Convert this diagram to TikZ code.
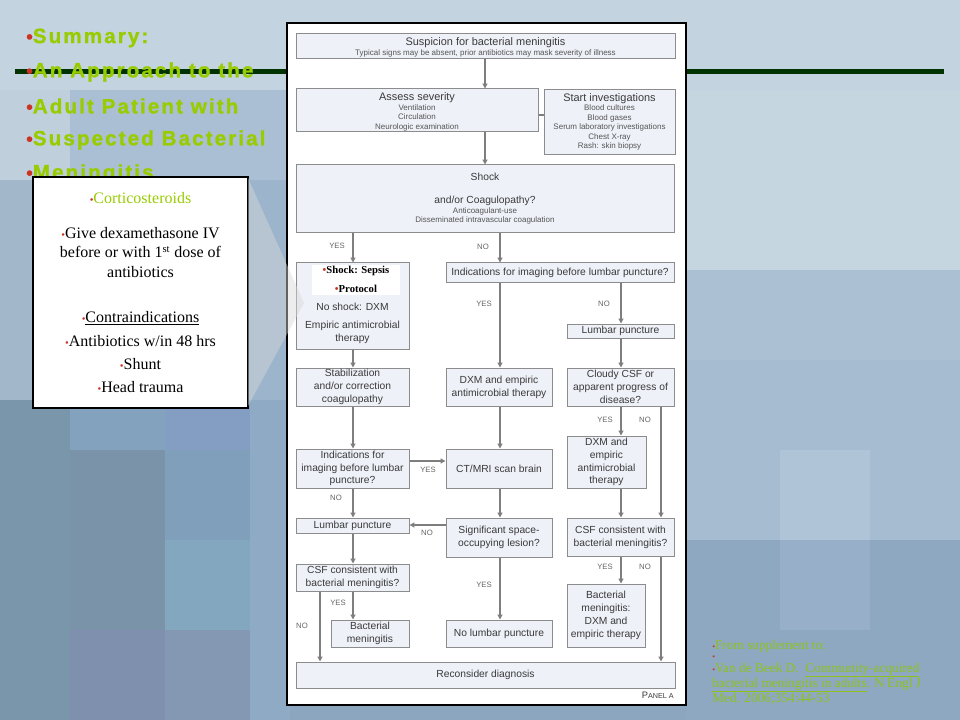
\documentclass[tikz,border=0pt]{standalone}
\usepackage{fontspec}
\setmainfont{Liberation Serif}
\newfontfamily\arial{Liberation Sans}
\newfontfamily\titlefont[LetterSpace=10,FakeBold=1.2]{Liberation Sans}
\usetikzlibrary{arrows.meta,fit}
\definecolor{tgreen}{HTML}{99CC00}
\definecolor{rgreen}{HTML}{8EC21A}
\definecolor{bulred}{HTML}{CC3322}
\definecolor{darkline}{HTML}{003300}
\definecolor{boxfill}{HTML}{EEF1F8}
\definecolor{boxdraw}{HTML}{8C8C8C}
\definecolor{lineg}{HTML}{7E7E7E}
\definecolor{txt}{HTML}{3A3A3A}
\definecolor{subtxt}{HTML}{555555}
\definecolor{labg}{HTML}{666666}
\definecolor{chev}{HTML}{D8D8D8}
\newcommand\redbul{{\color{bulred}\fontsize{8}{8}\selectfont •}}
\newcommand\tbul{{\color{bulred}\fontsize{14}{14}\selectfont •}}
\newcommand\sbul{{\color{bulred}\fontsize{6}{6}\selectfont •}}
\newcommand\tile[5]{\definecolor{tmpc}{HTML}{#1}\fill[tmpc] (#2,#3) rectangle (#4,#5);}
\newcommand\flowbox[6]{\node[box, minimum width={(#4-#2)*0.75pt}, minimum height={(#5-#3)*0.75pt}] (#1) at ({(#2+#4)/2},{(#3+#5)/2}) {#6};}
\begin{document}
\begin{tikzpicture}[x=0.75pt,y=-0.75pt,
 box/.style={draw=boxdraw, fill=boxfill, line width=0.75pt, inner sep=0pt, align=center, text=txt, font=\arial\fontsize{7.7}{9.6}\selectfont},
 conn/.style={draw=lineg, line width=0.9pt},
 arr/.style={conn, -{Triangle[length=3.6pt,width=3.6pt]}},
 lab/.style={font=\arial\fontsize{5.8}{6}\selectfont, text=labg, inner sep=0pt},
 sub/.style={font=\arial\fontsize{6}{7.1}\selectfont, text=subtxt, inner sep=0pt, align=center},
 mtxt/.style={font=\arial\fontsize{7.7}{9.6}\selectfont, text=txt, inner sep=0pt, align=center},
 htxt/.style={font=\arial\fontsize{8.2}{9}\selectfont, text=txt, inner sep=0pt},
 ttl/.style={font=\titlefont\bfseries\fontsize{15.5}{17}\selectfont, text=tgreen, anchor=west, inner sep=0pt},
 lbt/.style={font=\fontsize{12}{14.6}\selectfont, text=black, inner sep=0pt, align=center},
 reft/.style={font=\fontsize{10}{11}\selectfont, text=rgreen, anchor=base west, inner sep=0pt},
]
\useasboundingbox (0,0) rectangle (960,720);
% ---------- background ----------
\tile{C3D3DF}{0}{0}{960}{90}
\tile{BFD0DC}{0}{90}{70}{180}
\tile{ABBFD4}{70}{90}{290}{180}
\tile{A2B8CA}{0}{180}{290}{400}
\tile{9CB5CC}{248}{180}{290}{400}
\tile{7A96AB}{0}{400}{70}{720}
\tile{83A2BD}{70}{400}{165}{450}
\tile{849DC3}{165}{400}{250}{450}
\tile{7B93A8}{70}{450}{165}{630}
\tile{7F9FBA}{165}{450}{250}{540}
\tile{84A7C0}{165}{540}{250}{630}
\tile{7E90AE}{70}{630}{165}{720}
\tile{8497B3}{165}{630}{250}{720}
\tile{8FAAC4}{250}{400}{290}{720}
\tile{8CA6C0}{290}{700}{690}{720}
\tile{C6D6E0}{686}{90}{960}{270}
\tile{ABC1D3}{686}{270}{960}{360}
\tile{A6BCD0}{686}{360}{960}{540}
\tile{AFC4D6}{780}{450}{870}{540}
\tile{8EA8C2}{686}{540}{960}{720}
\tile{97AFC8}{780}{540}{870}{630}
% ---------- title ----------
\draw[darkline, line width=3.75pt] (15,72) -- (944,72);
\node[ttl] (h1) at (26,38) {\tbul Summary:};
\node[ttl] (h2) at (26,72) {\tbul An Approach to the};
\node[ttl] (h3) at (26,106) {\tbul Adult Patient with};
\node[ttl] (h4) at (26,140) {\tbul Suspected Bacterial};
\node[ttl] (h5) at (26,174) {\tbul Meningitis};
% ---------- flowchart panel ----------
\node[draw=black, fill=white, line width=0.8pt, inner sep=0pt, fit={(287,23) (686,705)}] (panel) {};
\flowbox{susp}{296}{34}{675}{59}{}
\node[htxt] (suspT) at (485.5,42.5) {Suspicion for bacterial meningitis};
\node[sub] (suspS) at (485.5,53) {Typical signs may be absent, prior antibiotics may mask severity of illness};
\flowbox{assess}{296}{89}{538}{132}{}
\node[htxt] (assessT) at (417,98) {Assess severity};
\node[sub] (assessS) at (417,117.5) {Ventilation\\Circulation\\Neurologic examination};
\flowbox{start}{544}{90}{675}{155}{}
\node[htxt] (startT) at (609.5,98.5) {Start investigations};
\node[sub] (startS) at (609.5,127.5) {Blood cultures\\Blood gases\\Serum laboratory investigations\\Chest X-ray\\Rash: skin biopsy};
\flowbox{shock}{296}{165}{674}{233}{}
\node[mtxt] (shockT) at (485,177) {Shock};
\node[mtxt] (shockT2) at (485,201) {and/or Coagulopathy?};
\node[sub] (shockS) at (485,216) {Anticoagulant-use\\Disseminated intravascular coagulation};
\flowbox{lbox}{296}{263}{409}{349}{}
\node[fill=white, inner sep=0pt, fit={(312,265) (400,295)}] (lwhite) {};
\node[font=\bfseries\fontsize{8}{9}\selectfont, inner sep=0pt] (sep1) at (356,271) {\redbul Shock: Sepsis};
\node[font=\bfseries\fontsize{8}{9}\selectfont, inner sep=0pt] (sep2) at (356,289) {\redbul Protocol};
\node[mtxt] (noshock) at (352.5,307) {No shock: DXM};
\node[mtxt] (empiric) at (352.5,332) {Empiric antimicrobial\\therapy};
\flowbox{indR}{446}{263}{674}{283}{Indications for imaging before lumbar puncture?}
\flowbox{lpR}{567}{324}{674}{338}{Lumbar puncture}
\flowbox{stab}{296}{368}{409}{406}{Stabilization\\and/or correction\\coagulopathy}
\flowbox{dxmM}{446}{368}{552}{406}{DXM and empiric\\antimicrobial therapy}
\flowbox{cloudy}{567}{368}{674}{406}{Cloudy CSF or\\apparent progress of\\disease?}
\flowbox{indL}{296}{449}{409}{488}{Indications for\\imaging before lumbar\\puncture?}
\flowbox{ct}{446}{449}{552}{488}{CT/MRI scan brain}
\flowbox{dxmR}{567}{436}{646}{488}{DXM and\\empiric\\antimicrobial\\therapy}
\flowbox{lpL}{296}{518}{409}{533}{Lumbar puncture}
\flowbox{sig}{446}{518}{552}{557}{Significant space-\\occupying lesion?}
\flowbox{csfR}{567}{518}{674}{556}{CSF consistent with\\bacterial meningitis?}
\flowbox{csfL}{296}{564}{409}{591}{CSF consistent with\\bacterial meningitis?}
\flowbox{bactL}{331}{620}{409}{647}{Bacterial\\meningitis}
\flowbox{nolp}{446}{620}{552}{647}{No lumbar puncture}
\flowbox{bactR}{567}{584}{645}{647}{Bacterial\\meningitis:\\DXM and\\empiric therapy}
\flowbox{recon}{296}{662}{675}{688}{Reconsider diagnosis}
\node[anchor=east, inner sep=0pt, text=txt] (panelA) at (674,695) {\arial{\fontsize{7}{7}\selectfont P}{\fontsize{5.4}{5.4}\selectfont ANEL A}};
% ---------- connectors ----------
\coordinate (xa) at (485,0);
\coordinate (xl) at (353,0);
\coordinate (xm) at (500,0);
\coordinate (xr) at (621,0);
\coordinate (xrr) at (661,0);
\coordinate (xll) at (320,0);
\coordinate (ya) at (0,115);
\coordinate (yb) at (0,461);
\coordinate (yc) at (0,525);
\draw[arr] (susp.south -| xa) -- (assess.north -| xa);
\draw[arr] (assess.south -| xa) -- (shock.north -| xa);
\draw[conn] (assess.east |- ya) -- (start.west |- ya);
\draw[arr] (shock.south -| xl) -- (lbox.north -| xl);
\draw[arr] (shock.south -| xm) -- (indR.north -| xm);
\draw[arr] (indR.south -| xm) -- (dxmM.north -| xm);
\draw[arr] (indR.south -| xr) -- (lpR.north -| xr);
\draw[arr] (lbox.south -| xl) -- (stab.north -| xl);
\draw[arr] (lpR.south -| xr) -- (cloudy.north -| xr);
\draw[arr] (stab.south -| xl) -- (indL.north -| xl);
\draw[arr] (dxmM.south -| xm) -- (ct.north -| xm);
\draw[arr] (cloudy.south -| xr) -- (dxmR.north -| xr);
\draw[arr] (cloudy.south -| xrr) -- (csfR.north -| xrr);
\draw[arr] (indL.east |- yb) -- (ct.west |- yb);
\draw[arr] (indL.south -| xl) -- (lpL.north -| xl);
\draw[arr] (ct.south -| xm) -- (sig.north -| xm);
\draw[arr] (dxmR.south -| xr) -- (csfR.north -| xr);
\draw[arr] (sig.west |- yc) -- (lpL.east |- yc);
\draw[arr] (lpL.south -| xl) -- (csfL.north -| xl);
\draw[arr] (sig.south -| xm) -- (nolp.north -| xm);
\draw[arr] (csfR.south -| xr) -- (bactR.north -| xr);
\draw[arr] (csfR.south -| xrr) -- (recon.north -| xrr);
\draw[arr] (csfL.south -| xl) -- (bactL.north -| xl);
\draw[arr] (csfL.south -| xll) -- (recon.north -| xll);
\node[lab] (l1) at (337,246) {YES};
\node[lab] (l2) at (483,247) {NO};
\node[lab] (l3) at (484,304) {YES};
\node[lab] (l4) at (604,304) {NO};
\node[lab] (l5) at (605,420) {YES};
\node[lab] (l6) at (645,420) {NO};
\node[lab] (l7) at (428,470) {YES};
\node[lab] (l8) at (336,498) {NO};
\node[lab] (l9) at (427,533) {NO};
\node[lab] (l10) at (484,585) {YES};
\node[lab] (l11) at (605,567) {YES};
\node[lab] (l12) at (645,567) {NO};
\node[lab] (l13) at (338,603) {YES};
\node[lab] (l14) at (302,626) {NO};
% ---------- corticosteroid box ----------
\node[draw=black, fill=white, line width=1pt, inner sep=0pt, fit={(33,177) (248,408)}] (cbox) {};
\node[lbt, text=tgreen] (c1) at (140.5,198) {\redbul Corticosteroids};
\node[lbt] (c2) at (140.5,252.5) {\redbul Give dexamethasone IV\\before or with 1\textsuperscript{st} dose of\\antibiotics};
\node[lbt] (c3) at (140.5,318) {\redbul\underline{Contraindications}};
\node[lbt] (c4) at (140.5,341) {\redbul Antibiotics w/in 48 hrs};
\node[lbt] (c5) at (140.5,364) {\redbul Shunt};
\node[lbt] (c6) at (140.5,387) {\redbul Head trauma};
\fill[chev, opacity=0.45] (248,178) -- (304,303) -- (248,406) -- cycle;
% ---------- reference ----------
\node[reft] (r1) at (712,649) {\sbul From supplement to:};
\node[reft] (r2) at (712,659) {\sbul};
\node[reft] (r3) at (712,672) {\sbul Van de Beek D.\ \ \underline{Community-acquired}};
\node[reft] (r4) at (712,687) {\underline{bacterial meningitis in adults}. N Engl J};
\node[reft] (r5) at (712,702) {Med. 2006;354:44-53};
\end{tikzpicture}
\end{document}
